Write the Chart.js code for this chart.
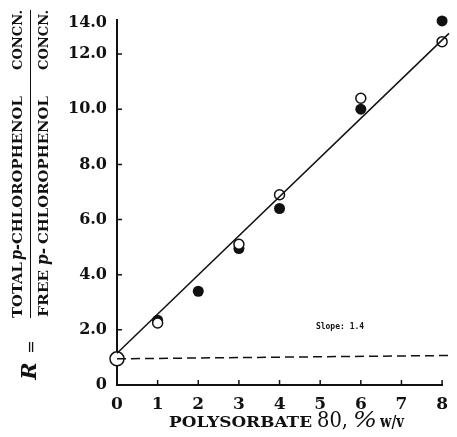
<!DOCTYPE html>
<html>
<head>
<meta charset="utf-8">
<script src="https://cdn.jsdelivr.net/npm/chart.js@4"></script>
<style>
  html, body { margin: 0; padding: 0; background: #fff; }
  #wrap { width: 457px; height: 437px; }
</style>
</head>
<body>
<div id="wrap"><canvas id="chart"></canvas></div>
<script>
// Polysorbate 80 concentration (% w/v) vs R.
const filledX = [1, 2, 3, 4, 6, 8];
const filledR = [2.35, 3.4, 4.95, 6.4, 10.0, 13.2];
const openX = [0, 1, 3, 4, 6, 8];
const openR = [0.95, 2.25, 5.1, 6.9, 10.4, 12.45];
const openRadius = [7, 5, 5, 5, 5, 5];
const fitX = [0, 8.17];
const fitR = [1.15, 12.75];
const baseX = [0, 8.15];
const baseR = [0.95, 1.07];
const xTickValues = [0, 1, 2, 3, 4, 5, 6, 7, 8];
const yTickValues = [0, 2, 4, 6, 8, 10, 12, 13.15];
const yTickLabels = ["0", "2.0", "4.0", "6.0", "8.0", "10.0", "12.0", "14.0"];

const INK = "#111";
const SERIF = "'DejaVu Serif', serif";

const pts = (xs, ys) => xs.map((x, i) => ({ x, y: ys[i] }));

// draw a string squeezed/stretched to a given length
function fitText(ctx, text, x, y, len, font) {
  ctx.save();
  ctx.font = font;
  const w = ctx.measureText(text).width;
  ctx.translate(x, y);
  ctx.scale(len / w, 1);
  ctx.fillText(text, 0, 0);
  ctx.restore();
}

const decor = {
  id: "decor",
  afterDraw(chart) {
    const { ctx, scales: { x, y } } = chart;
    ctx.save();
    ctx.fillStyle = INK;
    ctx.strokeStyle = INK;

    // inward tick marks
    ctx.lineWidth = 1.5;
    ctx.beginPath();
    yTickValues.slice(1, -1).forEach((v) => {
      const py = y.getPixelForValue(v);
      ctx.moveTo(x.left, py);
      ctx.lineTo(x.left + 5, py);
    });
    xTickValues.slice(1).forEach((v) => {
      const px = x.getPixelForValue(v);
      ctx.moveTo(px, y.bottom);
      ctx.lineTo(px, y.bottom - 5);
    });
    ctx.stroke();

    // slope note
    ctx.font = "bold 8px 'DejaVu Sans Mono', monospace";
    ctx.textAlign = "center";
    ctx.textBaseline = "middle";
    ctx.fillText("Slope: 1.4", 340, 327);

    // x axis title
    ctx.textAlign = "left";
    ctx.textBaseline = "alphabetic";
    fitText(ctx, "POLYSORBATE", 169, 427, 143, `bold 15px ${SERIF}`);
    fitText(ctx, "80,", 317, 427, 31, `23px ${SERIF}`);
    fitText(ctx, "%", 353, 427, 24, `italic 22px ${SERIF}`);
    fitText(ctx, "w/v", 380, 427, 24, `bold 17px ${SERIF}`);

    // y axis title: R = TOTAL ... / FREE ...
    const caps = `bold 13px ${SERIF}`;
    const ital = `italic bold 16px ${SERIF}`;
    ctx.save();
    ctx.translate(22, 318);
    ctx.rotate(-Math.PI / 2);
    fitText(ctx, "TOTAL", 0, 0, 56, caps);
    fitText(ctx, "p-", 58, 0, 16, ital);
    fitText(ctx, "CHLOROPHENOL", 74, 0, 148, caps);
    fitText(ctx, "CONCN.", 248, 0, 60, caps);
    ctx.restore();

    ctx.save();
    ctx.translate(48, 318);
    ctx.rotate(-Math.PI / 2);
    fitText(ctx, "FREE", 1, 0, 47, caps);
    fitText(ctx, "p-", 53, 0, 17, ital);
    fitText(ctx, "CHLOROPHENOL", 74, 0, 148, caps);
    fitText(ctx, "CONCN.", 248, 0, 60, caps);
    ctx.restore();

    ctx.lineWidth = 1;
    ctx.beginPath();
    ctx.moveTo(30.5, 10);
    ctx.lineTo(30.5, 318);
    ctx.stroke();

    ctx.save();
    ctx.translate(32, 347);
    ctx.rotate(-Math.PI / 2);
    ctx.textAlign = "center";
    ctx.textBaseline = "middle";
    ctx.font = `16px ${SERIF}`;
    ctx.fillText("=", 0, 0);
    ctx.restore();

    ctx.save();
    ctx.translate(31, 371);
    ctx.rotate(-Math.PI / 2);
    ctx.textAlign = "center";
    ctx.textBaseline = "middle";
    ctx.font = `italic bold 21px ${SERIF}`;
    ctx.fillText("R", 0, 0);
    ctx.restore();

    ctx.restore();
  },
};

new Chart(document.getElementById("chart"), {
  type: "scatter",
  data: {
    datasets: [
      {
        type: "line",
        data: pts(fitX, fitR),
        borderColor: INK,
        borderWidth: 1.5,
        pointRadius: 0,
        clip: false,
      },
      {
        type: "line",
        data: pts(baseX, baseR),
        borderColor: INK,
        borderWidth: 1.5,
        borderDash: [9, 5],
        pointRadius: 0,
        clip: false,
      },
      {
        data: pts(openX, openR),
        pointRadius: openRadius,
        pointBackgroundColor: "#fff",
        pointBorderColor: INK,
        pointBorderWidth: 1.5,
        clip: false,
      },
      {
        data: pts(filledX, filledR),
        pointRadius: 5.5,
        pointBackgroundColor: INK,
        pointBorderColor: INK,
        pointBorderWidth: 0,
        clip: false,
      },
    ],
  },
  options: {
    responsive: true,
    maintainAspectRatio: false,
    animation: false,
    events: [],
    layout: { padding: { top: 18, right: 7, left: 0, bottom: 0 } },
    plugins: { legend: { display: false }, tooltip: { enabled: false } },
    scales: {
      x: {
        type: "linear",
        min: 0,
        max: 8,
        afterFit: (s) => { s.height = 52; },
        afterBuildTicks: (s) => { s.ticks = xTickValues.map((value) => ({ value })); },
        grid: { display: false, drawTicks: false },
        border: { display: true, color: INK, width: 2 },
        ticks: { color: INK, padding: 9, font: { family: SERIF, size: 17, weight: "bold" } },
      },
      y: {
        type: "linear",
        min: 0,
        max: 13.25,
        afterFit: (s) => { s.width = 117; },
        afterBuildTicks: (s) => { s.ticks = yTickValues.map((value) => ({ value })); },
        grid: { display: false, drawTicks: false },
        border: { display: true, color: INK, width: 2 },
        ticks: {
          color: INK,
          padding: 10,
          font: { family: SERIF, size: 16, weight: "bold" },
          callback: (v, i) => yTickLabels[i],
        },
      },
    },
  },
  plugins: [decor],
});
</script>
</body>
</html>
